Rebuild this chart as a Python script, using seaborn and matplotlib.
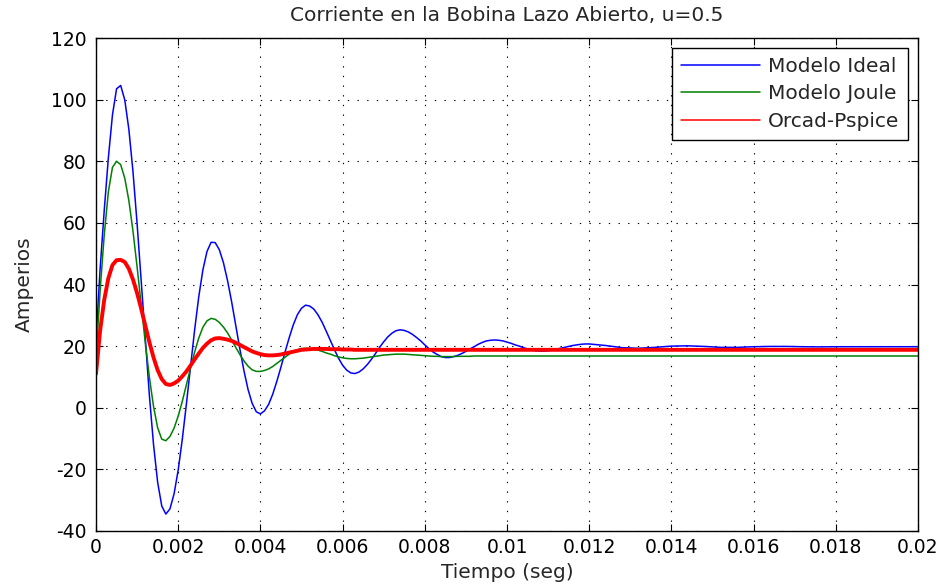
import numpy as np
import pandas as pd
import matplotlib
matplotlib.use("Agg")
import matplotlib.pyplot as plt
import seaborn as sns
from matplotlib.lines import Line2D

# ---- sampling grid (ms): 0.1 ms steps up to 11.9 ms, then 0.4 ms steps to 20 ms
t_ms = np.concatenate([np.arange(120) * 0.1, 12.0 + np.arange(21) * 0.4])
time_s = np.round(t_ms, 2) / 1000.0

modelo_ideal = [
    22, 45, 64, 81, 95, 103.5, 104.6, 99.9, 90.3, 76.6,
    59.7, 41.0, 21.9, 3.8, -12.0, -24.2, -31.9, -34.5, -32.8, -27.9,
    -20.2, -10.2, 1.3, 13.4, 25.3, 36.0, 44.7, 50.7, 53.7, 53.6,
    51.3, 47.1, 41.3, 34.4, 26.8, 19.1, 12.0, 5.9, 1.4, -1.3,
    -2.0, -1.0, 1.1, 4.4, 8.6, 13.2, 18.1, 22.7, 26.9, 30.2,
    32.3, 33.3, 33.0, 32.0, 30.2, 27.8, 24.9, 21.9, 18.9, 16.1,
    13.8, 12.2, 11.3, 11.1, 11.6, 12.6, 14.0, 15.7, 17.6, 19.6,
    21.4, 23.0, 24.2, 25.0, 25.3, 25.1, 24.6, 23.8, 22.8, 21.7,
    20.4, 19.2, 18.1, 17.3, 16.6, 16.3, 16.3, 16.6, 17.0, 17.6,
    18.3, 19.1, 19.8, 20.6, 21.2, 21.7, 21.9, 22.0, 21.9, 21.7,
    21.3, 20.9, 20.4, 20.0, 19.5, 19.1, 18.7, 18.5, 18.4, 18.4,
    18.5, 18.7, 19.0, 19.3, 19.6, 19.9, 20.2, 20.4, 20.6, 20.7,
    20.7, 20.2, 19.5, 19.3, 19.6, 20.0, 20.1, 19.9, 19.6, 19.6,
    19.8, 19.9, 19.9, 19.8, 19.75, 19.8, 19.8, 19.8, 19.8, 19.8, 19.8,
]

modelo_joule = [
    16, 38, 56, 70, 78, 80, 78.9, 74.5, 67.2, 57.3,
    45.7, 33.3, 21.0, 9.8, 0.4, -6.5, -10.2, -10.7, -9.3, -6.6,
    -2.7, 2.1, 7.5, 12.9, 18.1, 22.6, 26.1, 28.2, 29.0, 28.7,
    27.7, 26.2, 24.3, 22.0, 19.6, 17.3, 15.2, 13.5, 12.3, 11.8,
    11.8, 12.1, 12.6, 13.4, 14.4, 15.4, 16.4, 17.4, 18.2, 18.8,
    19.2, 19.3, 19.2, 19.0, 18.7, 18.3, 17.8, 17.4, 16.9, 16.5,
    16.2, 16.0, 15.9, 15.9, 16.0, 16.1, 16.3, 16.5, 16.7, 16.9,
    17.1, 17.2, 17.3, 17.4, 17.4, 17.4, 17.3, 17.2, 17.1, 17.0,
    16.9, 16.8, 16.7, 16.7, 16.6, 16.6, 16.6, 16.6, 16.7, 16.7,
    16.7, 16.7, 16.8, 16.8, 16.8, 16.8, 16.8, 16.8, 16.8, 16.8,
    16.8, 16.8, 16.8, 16.8, 16.8, 16.8, 16.8, 16.8, 16.8, 16.8,
    16.8, 16.8, 16.8, 16.8, 16.8, 16.8, 16.8, 16.8, 16.8, 16.8,
    16.8, 16.8, 16.8, 16.8, 16.8, 16.8, 16.8, 16.8, 16.8, 16.8,
    16.8, 16.8, 16.8, 16.8, 16.8, 16.8, 16.8, 16.8, 16.8, 16.8, 16.8,
]

orcad_pspice = [
    11, 25, 35, 42, 46.3, 47.9, 48.0, 47.3, 45.1, 41.6,
    37.2, 32.1, 26.6, 21.2, 16.3, 12.2, 9.3, 7.7, 7.4, 7.9,
    8.8, 10.2, 11.8, 13.7, 15.7, 17.6, 19.4, 20.8, 21.9, 22.5,
    22.6, 22.4, 22.1, 21.7, 21.1, 20.4, 19.7, 19.0, 18.3, 17.8,
    17.4, 17.1, 17.0, 17.0, 17.1, 17.3, 17.6, 17.9, 18.2, 18.5,
    18.8, 18.9, 19.0, 19.1, 19.1, 19.1, 19.1, 19.0, 19.0, 19.0,
    18.9, 18.9, 18.9, 18.8, 18.8, 18.8, 18.8, 18.8, 18.8, 18.8,
    18.8, 18.8, 18.8, 18.8, 18.8, 18.8, 18.8, 18.8, 18.8, 18.8,
    18.8, 18.8, 18.8, 18.8, 18.8, 18.8, 18.8, 18.8, 18.8, 18.8,
    18.8, 18.8, 18.8, 18.8, 18.8, 18.8, 18.8, 18.8, 18.8, 18.8,
    18.8, 18.8, 18.8, 18.8, 18.8, 18.8, 18.8, 18.8, 18.8, 18.8,
    18.8, 18.8, 18.8, 18.8, 18.8, 18.8, 18.8, 18.8, 18.8, 18.8,
    18.8, 18.8, 18.8, 18.8, 18.8, 18.8, 18.8, 18.8, 18.8, 18.8,
    18.8, 18.8, 18.8, 18.8, 18.8, 18.8, 18.8, 18.8, 18.8, 18.8, 18.8,
]

series_names = ["Modelo Ideal", "Modelo Joule", "Orcad-Pspice"]
series_colors = ["#0000ff", "#008000", "#ff0000"]
series_widths = [1.1, 1.1, 2.8]

x_ticks = [0, 0.002, 0.004, 0.006, 0.008, 0.01, 0.012, 0.014, 0.016, 0.018, 0.02]
x_tick_labels = ["0", "0.002", "0.004", "0.006", "0.008", "0.01", "0.012",
                 "0.014", "0.016", "0.018", "0.02"]
y_ticks = [-40, -20, 0, 20, 40, 60, 80, 100, 120]

FS_TICK = 13.5
FS_TEXT = 14.5
sns.set_style("ticks")
plt.rcParams["font.family"] = ["DejaVu Sans"]
plt.rcParams["font.size"] = FS_TICK

fig = plt.figure(figsize=(9.43, 5.86), dpi=100)
ax = fig.add_axes([96 / 943, 1 - 531 / 586, (918 - 96) / 943, (531 - 38) / 586])

for name, vals, col, lw in zip(series_names,
                               [modelo_ideal, modelo_joule, orcad_pspice],
                               series_colors, series_widths):
    df = pd.DataFrame({"t": time_s, "v": vals})
    sns.lineplot(data=df, x="t", y="v", ax=ax, color=col, linewidth=lw,
                 estimator=None, sort=False, legend=False)

ax.set_xlim(0, 0.02)
ax.set_ylim(-40, 120)
ax.set_xticks(x_ticks)
ax.set_xticklabels(x_tick_labels)
ax.set_yticks(y_ticks)
ax.set_yticklabels([str(v) for v in y_ticks])

ax.grid(True, color="black", linestyle=(0, (1.2, 7.5)), linewidth=0.8)
for s in ax.spines.values():
    s.set_visible(True)
    s.set_color("black")
    s.set_linewidth(1.0)
ax.tick_params(direction="in", top=True, right=True, length=5, width=0.8,
               labelsize=FS_TICK, colors="black")
ax.tick_params(axis="x", pad=5)
ax.tick_params(axis="y", pad=7)

ax.set_title("Corriente en la Bobina Lazo Abierto, u=0.5", fontsize=FS_TEXT, pad=12)
ax.set_xlabel("Tiempo (seg)", fontsize=FS_TEXT, labelpad=4)
ax.set_ylabel("Amperios", fontsize=FS_TEXT, labelpad=12)

handles = [Line2D([0], [0], color=c, linewidth=1.1) for c in series_colors]
leg = ax.legend(handles, series_names, loc="upper right",
                bbox_to_anchor=(0.988, 0.98), fontsize=FS_TEXT, frameon=True,
                fancybox=False, framealpha=1, edgecolor="black",
                handlelength=3.9, handletextpad=0.4, labelspacing=0.42,
                borderpad=0.45, borderaxespad=0)
leg.get_frame().set_linewidth(1.0)

fig.savefig("out.png", dpi=100)
